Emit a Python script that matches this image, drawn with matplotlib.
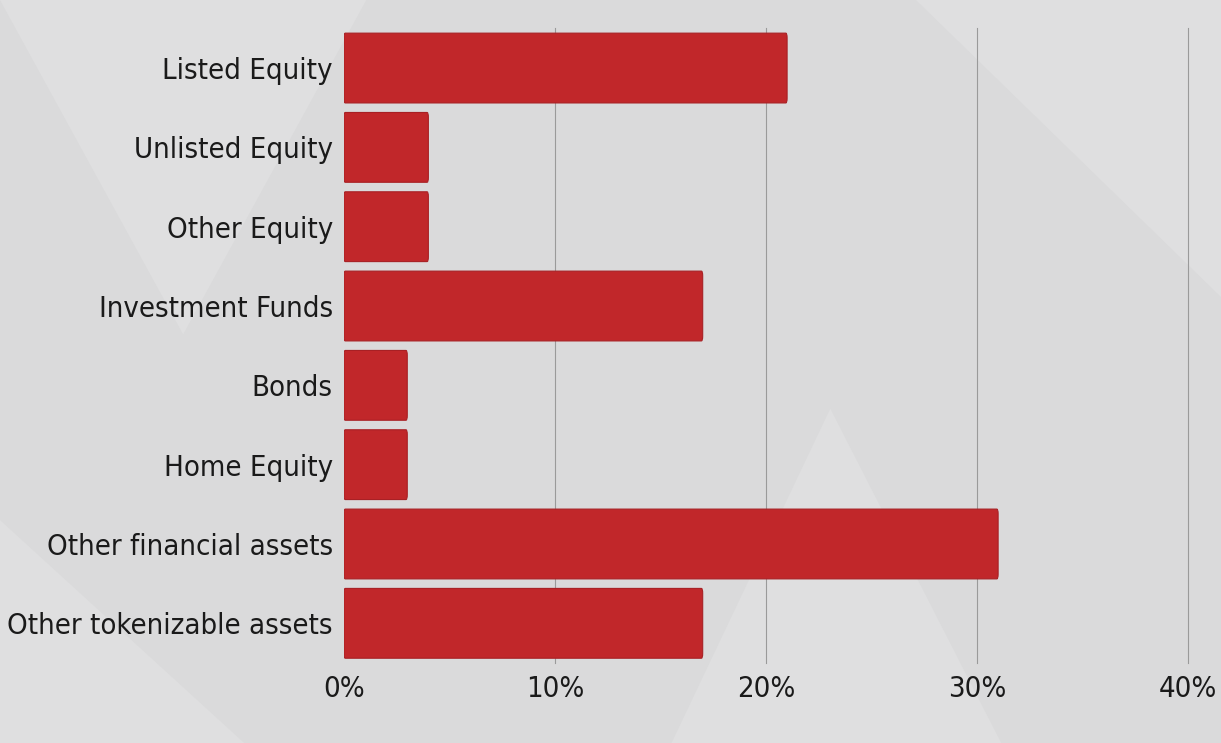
import matplotlib
matplotlib.use("Agg")
import matplotlib.pyplot as plt
from matplotlib.patches import FancyBboxPatch, Polygon

categories = ["Listed Equity", "Unlisted Equity", "Other Equity", "Investment Funds",
              "Bonds", "Home Equity", "Other financial assets", "Other tokenizable assets"]
shares = [21, 4, 4, 17, 3, 3, 31, 17]
xticks = [0, 10, 20, 30, 40]
xtick_labels = ["0%", "10%", "20%", "30%", "40%"]

bg = "#dadadb"
bar_color = "#c1272a"

plt.rcParams["font.family"] = ["DejaVu Sans"]
plt.rcParams["font.stretch"] = "condensed"

fig = plt.figure(figsize=(12.21, 7.43), dpi=100, facecolor=bg)

# faint triangle pattern in the background
for pts in [[(0.0, 1.0), (0.30, 1.0), (0.15, 0.55)],
            [(0.55, 0.0), (0.82, 0.0), (0.68, 0.45)],
            [(0.75, 1.0), (1.0, 1.0), (1.0, 0.6)],
            [(0.0, 0.0), (0.2, 0.0), (0.0, 0.3)]]:
    fig.patches.append(Polygon(pts, closed=True, transform=fig.transFigure,
                               facecolor="#dfdfe0", edgecolor="none", zorder=-5))

ax = fig.add_axes([0.2817, 0.1077, 0.6913, 0.8541])
ax.set_facecolor("none")

y = list(range(len(categories)))
bars = ax.barh(y, shares, height=0.88, color=bar_color, zorder=3)

# swap plain rectangles for slightly rounded ones
for b in bars:
    b.set_visible(False)
    r = FancyBboxPatch((b.get_x(), b.get_y()), b.get_width(), b.get_height(),
                       boxstyle="round,pad=0,rounding_size=0.06",
                       mutation_aspect=1, facecolor=bar_color,
                       edgecolor="#a82024", linewidth=0.8, zorder=3)
    ax.add_patch(r)

ax.set_xlim(0, 40)
ax.set_ylim(len(categories) - 0.5, -0.5)
ax.set_yticks(y)
ax.set_yticklabels(categories, fontsize=21, color="#1a1a1a")
ax.set_xticks(xticks)
ax.set_xticklabels(xtick_labels, fontsize=21, color="#1a1a1a")
ax.tick_params(axis="both", length=0)
ax.tick_params(axis="y", pad=8)
ax.tick_params(axis="x", pad=9)

ax.grid(axis="x", color="#9a9a9a", linewidth=0.8, zorder=1)
gls = ax.get_xgridlines()
gls[0].set_visible(False)
for gl in gls:
    gl.set_clip_on(False)
for s in ax.spines.values():
    s.set_visible(False)

fig.savefig("out.png", dpi=100, facecolor=bg)
